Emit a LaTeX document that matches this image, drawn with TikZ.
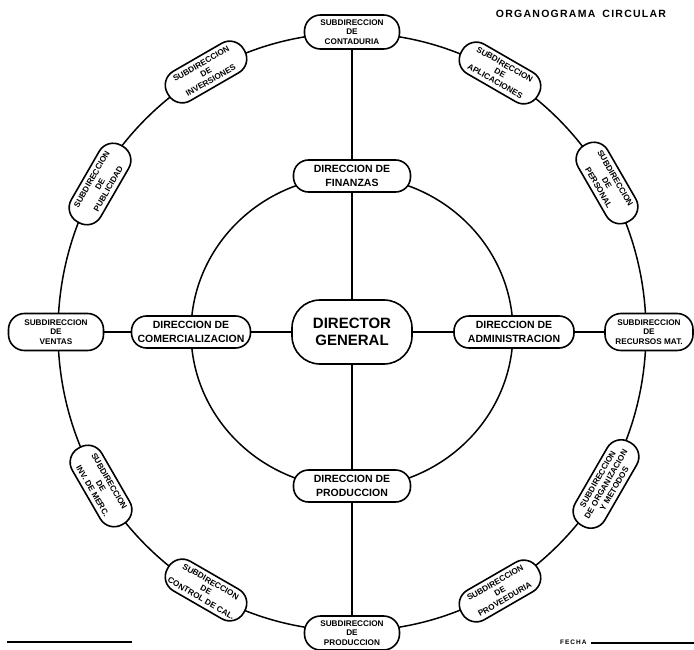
\documentclass[tikz,border=0pt]{standalone}
\usepackage{fontspec}
\setmainfont{Liberation Sans}
\usetikzlibrary{calc}
\begin{document}
\begin{tikzpicture}[x=1pt,y=-1pt,
  pill/.style={draw, line width=1.6pt, fill=white, align=center, inner sep=1pt},
  sub/.style={pill, minimum width=88pt, minimum height=34pt, rounded corners=16pt,
    font=\fontsize{8.2}{9.6}\selectfont\bfseries},
  dir/.style={pill, minimum width=117pt, minimum height=32pt, rounded corners=15pt,
    font=\fontsize{10.5}{13.5}\selectfont\bfseries},
  chief/.style={pill, minimum width=120pt, minimum height=64pt, rounded corners=28pt,
    font=\fontsize{15}{17}\selectfont\bfseries},
  conn/.style={line width=1.5pt},
  rule/.style={line width=1.3pt},
]
\useasboundingbox (0,0) rectangle (694,650);

% centre of both rings
\coordinate (c) at (352,332);

% outer ring (sub-directions) and inner ring (directions)
\draw[conn] (c) ellipse[x radius=294, y radius=299];
\draw[conn] (c) ellipse[x radius=161, y radius=156];

% general director
\node[chief] (dg) at (352,332) {DIRECTOR\\GENERAL};

% directions
\node[dir] (finanzas) at (352,176) {DIRECCION DE\\FINANZAS};
\node[dir] (produccion) at (352,486) {DIRECCION DE\\PRODUCCION};
\node[dir, minimum width=119pt] (comercial) at (191,332) {DIRECCION DE\\COMERCIALIZACION};
\node[dir, minimum width=120pt] (admin) at (514,332) {DIRECCION DE\\ADMINISTRACION};

% sub-directions, every 30 degrees round the outer ring
\node[sub, minimum width=95pt] (contaduria) at (352,32) {SUBDIRECCION\\DE\\CONTADURIA};
\node[sub, rotate=-30] (aplicaciones) at (500,73) {SUBDIRECCION\\DE\\APLICACIONES};
\node[sub, rotate=-60] (personal) at (607,183) {SUBDIRECCION\\DE\\PERSONAL};
\node[sub, minimum height=37pt, minimum width=88pt] (recursos) at (649,332) {SUBDIRECCION\\DE\\RECURSOS MAT.};
\node[sub, rotate=60, minimum width=96pt] (organizacion) at (606,484) {SUBDIRECCION\\DE ORGANIZACION\\Y METODOS};
\node[sub, rotate=30] (proveeduria) at (500,591) {SUBDIRECCION\\DE\\PROVEEDURIA};
\node[sub, minimum width=95pt] (subproduccion) at (352,633) {SUBDIRECCION\\DE\\PRODUCCION};
\node[sub, rotate=-30] (control) at (206,590) {SUBDIRECCION\\DE\\CONTROL DE CAL.};
\node[sub, rotate=-60] (invmerc) at (101,486) {SUBDIRECCION\\DE\\INV. DE MERC.};
\node[sub, minimum height=37pt, minimum width=95pt] (ventas) at (56,332) {SUBDIRECCION\\DE\\VENTAS};
\node[sub, rotate=60] (publicidad) at (100,184) {SUBDIRECCION\\DE\\PUBLICIDAD};
\node[sub, rotate=30] (inversiones) at (206,72) {SUBDIRECCION\\DE\\INVERSIONES};

% radial links
\draw[conn] (contaduria) -- (finanzas);
\draw[conn] (finanzas) -- (dg);
\draw[conn] (dg) -- (produccion);
\draw[conn] (produccion) -- (subproduccion);
\draw[conn] (ventas) -- (comercial);
\draw[conn] (comercial) -- (dg);
\draw[conn] (dg) -- (admin);
\draw[conn] (admin) -- (recursos);

% title
\node (titulo) at (581,14) {\fontsize{10.5}{12}\selectfont\bfseries\addfontfeature{LetterSpace=12}ORGANOGRAMA\hspace{7pt}CIRCULAR};

% signature and date lines
\coordinate (firma1) at (7,642);
\coordinate (firma2) at (132,642);
\draw[rule] (firma1) -- (firma2);
\node[inner sep=0pt, anchor=base west] (fecha) at (560,644) {\fontsize{6.5}{8}\selectfont\bfseries\addfontfeature{LetterSpace=15}FECHA};
\coordinate (fecha2) at (694,643);
\draw[rule] ($(fecha.base east)+(4,-1)$) -- (fecha2);
\end{tikzpicture}
\end{document}
